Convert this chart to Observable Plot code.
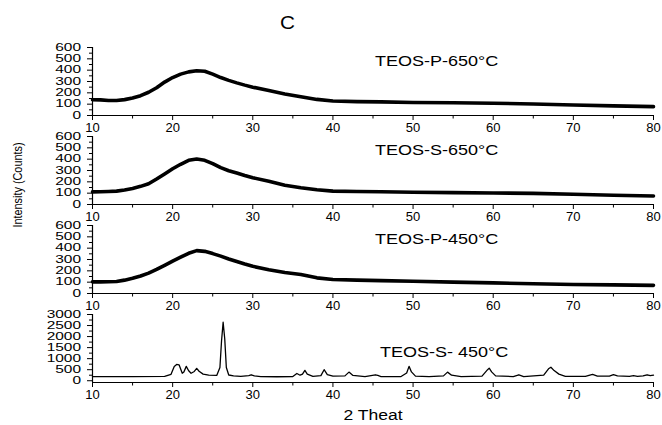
<!DOCTYPE html>
<html><head><meta charset="utf-8">
<script src="https://cdn.jsdelivr.net/npm/d3@7"></script>
<script src="https://cdn.jsdelivr.net/npm/@observablehq/plot@0.6"></script>
<style>
body{margin:0;background:#fff;}
#chart{position:relative;width:662px;height:425px;overflow:hidden;font-family:"Liberation Sans",Arial,sans-serif;background:#fff;}
#chart svg{position:absolute;left:0;}
</style></head><body><div id="chart"></div>
<script>
// ---- data ----
const panelNames = ["TEOS-P-650°C", "TEOS-S-650°C", "TEOS-P-450°C", "TEOS-S- 450°C"];
const chartTitle = "C";
const yTitle = "Intensity (Counts)";
const xTitle = "2 Theat";

const xTicks = [10, 20, 30, 40, 50, 60, 70, 80];
const xMinorTicks = [15, 25, 35, 45, 55, 65, 75];
const yTicksAmorph = [0, 100, 200, 300, 400, 500, 600];
const yMinorAmorph = [50, 150, 250, 350, 450, 550];
const yTicksCryst = [0, 500, 1000, 1500, 2000, 2500, 3000];
const yMinorCryst = [250, 750, 1250, 1750, 2250, 2750];

const thetaAmorph = [10,11,12,13,14,15,16,17,18,19,20,21,22,23,24,25,26,27,28,29,30,32,34,36,38,40,43,46,50,55,60,65,70,75,80];
const countsP650 = [139,138,133,132,140,155,175,205,245,295,335,365,385,395,390,365,335,310,288,268,250,220,190,165,142,128,122,120,115,112,108,102,92,85,78];
const countsS650 = [111,112,115,118,128,142,160,183,225,270,315,355,390,402,390,360,325,298,278,256,236,205,170,148,130,118,115,112,108,105,102,98,90,82,75];
const countsP450 = [103,103,104,106,118,135,155,180,212,248,285,320,355,378,372,352,330,305,282,260,240,210,185,168,138,123,118,114,108,100,94,86,80,76,72];

const thetaS450 = [10,15,19,19.8,20.2,20.5,20.8,21.2,21.4,21.7,22.0,22.3,22.7,23.0,23.3,23.8,24.5,25.5,25.9,26.1,26.3,26.5,26.7,27.0,27.6,28.5,29.5,29.8,30.2,31,33,35,35.5,35.9,36.2,36.5,36.8,37.5,38.5,38.9,39.3,40,41.5,42.0,42.5,44,45.3,45.6,46,48.5,49.2,49.5,49.8,50.3,52,53.8,54.3,54.8,56,58.6,59.3,59.5,59.8,60.3,62.5,63.2,63.8,66.3,66.9,67.2,67.6,68.2,69,71.5,72.4,73,74.5,75,75.5,77,77.5,78,78.7,79.2,79.6,80];
const countsS450 = [185,185,195,290,650,740,720,340,400,650,450,340,420,560,430,300,250,240,600,1800,2650,1900,600,260,220,200,230,270,220,190,180,190,330,250,300,470,300,200,230,500,280,210,220,390,240,190,270,240,190,190,350,650,400,210,190,220,390,250,190,210,500,570,400,220,190,270,190,250,540,610,460,300,200,200,290,210,210,280,220,200,230,200,220,270,230,250];

// ---- layout ----
const W = 662;
const chart = document.getElementById("chart");
const FONT = '"Liberation Sans", Arial, sans-serif';

const panels = [
  {theta: thetaAmorph, counts: countsP650, domain: [0, 600], major: yTicksAmorph, minor: yMinorAmorph, sw: 3.6},
  {theta: thetaAmorph, counts: countsS650, domain: [0, 600], major: yTicksAmorph, minor: yMinorAmorph, sw: 3.6},
  {theta: thetaAmorph, counts: countsP450, domain: [0, 600], major: yTicksAmorph, minor: yMinorAmorph, sw: 3.6},
  {theta: thetaS450, counts: countsS450, domain: [-80, 3000], major: yTicksCryst, minor: yMinorCryst, sw: 1.3}
];

function stretchText(svg, selector, sx, sy) {
  svg.querySelectorAll(selector).forEach(el => {
    const t = el.getAttribute("transform");
    if (t) el.setAttribute("transform", t + ` scale(${sx},${sy})`);
    else {
      const x = +el.getAttribute("x") || 0, y = +el.getAttribute("y") || 0;
      el.removeAttribute("x");
      el.setAttribute("transform", `translate(${x},${y}) scale(${sx},${sy})`);
    }
  });
}

panels.forEach((p, i) => {
  const data = p.theta.map((t, j) => ({theta: t, counts: p.counts[j]}));
  const svg = Plot.plot({
    width: W, height: 100,
    marginTop: 7, marginBottom: 25, marginLeft: 92, marginRight: 9,
    x: {domain: [10, 80]},
    y: {domain: p.domain},
    style: {background: "transparent", overflow: "visible", fontSize: "13px", fontFamily: FONT, color: "#000"},
    marks: [
      Plot.axisX({ticks: xMinorTicks, tickSize: 3.5, tickFormat: () => "", label: null}),
      Plot.axisX({ticks: xTicks, tickSize: 5, tickPadding: 2.5, tickFormat: d => String(d), label: null}),
      Plot.axisY({ticks: p.minor, tickSize: 3, tickFormat: () => "", label: null}),
      Plot.axisY({ticks: p.major, tickSize: 5, tickPadding: 6.5, tickFormat: d => String(d), label: null}),
      Plot.ruleX([10], {stroke: "#000", strokeWidth: 1.2}),
      Plot.ruleY([p.domain[0]], {stroke: "#000", strokeWidth: 1.2}),
      Plot.line(data, {x: "theta", y: "counts", stroke: "#000", strokeWidth: p.sw, strokeLinejoin: "round"})
    ]
  });
  svg.style.top = (40 + 89 * i) + "px";
  stretchText(svg, 'g[aria-label="y-axis tick label"] text', 1.19, 0.78);
  chart.appendChild(svg);
});

// ---- overlay texts ----
const ov = d3.create("svg").attr("width", W).attr("height", 425)
  .style("top", "0px").style("pointer-events", "none")
  .attr("font-family", FONT).attr("fill", "#000");

ov.append("text").attr("transform", "translate(287.5,29.3) scale(1.17,1)")
  .attr("text-anchor", "middle").attr("font-size", 17.7).text(chartTitle);

ov.append("text").attr("transform", "translate(18,185) rotate(-90) scale(0.87,1)")
  .attr("text-anchor", "middle").attr("dy", "0.35em").attr("font-size", 12.5).text(yTitle);

ov.append("text").attr("transform", "translate(373,419.5) scale(1.17,1)")
  .attr("text-anchor", "middle").attr("font-size", 15).text(xTitle);

const labelPos = [[375, 66], [375, 155], [375, 244], [380, 356.5]];
panelNames.forEach((name, i) => {
  ov.append("text").attr("transform", `translate(${labelPos[i][0]},${labelPos[i][1]}) scale(1.17,1)`)
    .attr("text-anchor", "start").attr("font-size", 15.4).text(name);
});
chart.appendChild(ov.node());
</script></body></html>
